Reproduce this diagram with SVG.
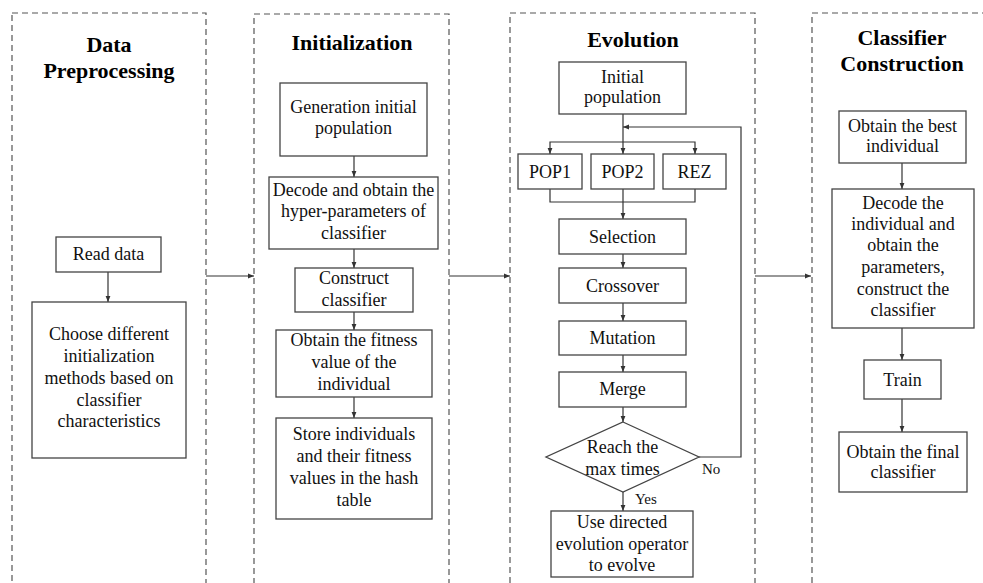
<svg xmlns="http://www.w3.org/2000/svg" width="983" height="583" viewBox="0 0 983 583">
<defs>
<marker id="ah" viewBox="0 0 10 10" refX="10" refY="5" markerWidth="6" markerHeight="6" markerUnits="userSpaceOnUse" orient="auto">
<path d="M0,1 L10,5 L0,9 z" fill="#333"/>
</marker>
<style>
.col{fill:none;stroke:#555;stroke-width:1.2;stroke-dasharray:6,4}
.box{fill:#fff;stroke:#444;stroke-width:1.3}
.t{font-size:18px;fill:#111;text-anchor:middle}
.h{font-size:22px;font-weight:bold;fill:#000;text-anchor:middle}
.s{font-size:15px;fill:#111}
.c{fill:none;stroke:#333;stroke-width:1.2}
.a{marker-end:url(#ah)}
</style>
</defs>
<rect width="983" height="583" fill="#fff"/>
<g font-family="Liberation Serif, Times New Roman, DejaVu Serif, serif">
<g id="col-preprocessing">
<rect class="col" x="12" y="13" width="194" height="600"/>
<text class="h" x="109" y="52">Data</text>
<text class="h" x="109" y="78">Preprocessing</text>
</g>
<g id="col-initialization">
<rect class="col" x="254" y="14" width="195" height="600"/>
<text class="h" x="352" y="50">Initialization</text>
</g>
<g id="col-evolution">
<rect class="col" x="510" y="13" width="245" height="600"/>
<text class="h" x="633" y="47">Evolution</text>
</g>
<g id="col-classifier">
<rect class="col" x="812" y="13" width="190" height="600"/>
<text class="h" x="902" y="45">Classifier</text>
<text class="h" x="902" y="71">Construction</text>
</g>

<g id="connectors">
<path class="c a" d="M206,276 H254"/>
<path class="c a" d="M449,276 H510"/>
<path class="c a" d="M755,276 H811"/>
<path class="c a" d="M108,272 V302"/>
<path class="c a" d="M354,156 V177"/>
<path class="c a" d="M354,249 V268"/>
<path class="c a" d="M354,312 V330"/>
<path class="c a" d="M354,397 V418"/>
<path class="c" d="M623,114 V142"/>
<path class="c a" d="M623,142 H550 V154"/>
<path class="c a" d="M623,142 H695 V154"/>
<path class="c a" d="M623,142 V154"/>
<path class="c" d="M550,189 V202 H695 V189"/>
<path class="c a" d="M623,189 V219"/>
<path class="c a" d="M623,254 V268"/>
<path class="c a" d="M623,303 V321"/>
<path class="c a" d="M623,355 V372"/>
<path class="c a" d="M623,407 V422"/>
<path class="c a" d="M623,492 V511"/>
<path class="c a" d="M699,457 H741 V127 H623"/>
<path class="c a" d="M902,163 V189"/>
<path class="c a" d="M902,328 V360"/>
<path class="c a" d="M902,399 V432"/>
</g>

<g id="read-data">
<rect class="box" x="56" y="237" width="105" height="35"/>
<text class="t" x="108.5" y="260">Read data</text>
</g>
<g id="choose-init">
<rect class="box" x="32" y="302" width="154" height="156"/>
<text class="t" x="109" y="340">Choose different</text>
<text class="t" x="109" y="362">initialization</text>
<text class="t" x="109" y="384">methods based on</text>
<text class="t" x="109" y="406">classifier</text>
<text class="t" x="109" y="427">characteristics</text>
</g>

<g id="gen-init-pop">
<rect class="box" x="280" y="83" width="147" height="73"/>
<text class="t" x="353.5" y="113">Generation initial</text>
<text class="t" x="353.5" y="134">population</text>
</g>
<g id="decode-hyper">
<rect class="box" x="269" y="177" width="169" height="72"/>
<text class="t" x="353.5" y="196">Decode and obtain the</text>
<text class="t" x="353.5" y="217">hyper-parameters of</text>
<text class="t" x="353.5" y="239">classifier</text>
</g>
<g id="construct-classifier">
<rect class="box" x="295" y="268" width="118" height="44"/>
<text class="t" x="354" y="284">Construct</text>
<text class="t" x="354" y="306">classifier</text>
</g>
<g id="obtain-fitness">
<rect class="box" x="276" y="330" width="156" height="67"/>
<text class="t" x="354" y="346">Obtain the fitness</text>
<text class="t" x="354" y="368">value of the</text>
<text class="t" x="354" y="390">individual</text>
</g>
<g id="store-hash">
<rect class="box" x="276" y="418" width="156" height="101"/>
<text class="t" x="354" y="440">Store individuals</text>
<text class="t" x="354" y="462">and their fitness</text>
<text class="t" x="354" y="484">values in the hash</text>
<text class="t" x="354" y="506">table</text>
</g>

<g id="initial-population">
<rect class="box" x="559" y="62" width="127" height="52"/>
<text class="t" x="622.5" y="83">Initial</text>
<text class="t" x="622.5" y="103">population</text>
</g>
<g id="pop1">
<rect class="box" x="518" y="154" width="64" height="35"/>
<text class="t" x="550" y="178">POP1</text>
</g>
<g id="pop2">
<rect class="box" x="591" y="154" width="63" height="35"/>
<text class="t" x="622.5" y="178">POP2</text>
</g>
<g id="rez">
<rect class="box" x="663" y="154" width="63" height="35"/>
<text class="t" x="694.5" y="178">REZ</text>
</g>
<g id="selection">
<rect class="box" x="559" y="219" width="127" height="35"/>
<text class="t" x="622.5" y="243">Selection</text>
</g>
<g id="crossover">
<rect class="box" x="559" y="268" width="127" height="35"/>
<text class="t" x="622.5" y="292">Crossover</text>
</g>
<g id="mutation">
<rect class="box" x="559" y="321" width="127" height="34"/>
<text class="t" x="622.5" y="344">Mutation</text>
</g>
<g id="merge">
<rect class="box" x="559" y="372" width="127" height="35"/>
<text class="t" x="622.5" y="395">Merge</text>
</g>
<g id="reach-max">
<polygon class="box" points="623,422 699,457 623,492 546,457"/>
<text class="t" x="622.5" y="453">Reach the</text>
<text class="t" x="622.5" y="475">max times</text>
<text class="s" x="702" y="474">No</text>
<text class="s" x="635" y="504">Yes</text>
</g>
<g id="directed-evolution">
<rect class="box" x="551" y="511" width="142" height="66"/>
<text class="t" x="622" y="528">Use directed</text>
<text class="t" x="622" y="550">evolution operator</text>
<text class="t" x="622" y="571">to evolve</text>
</g>

<g id="best-individual">
<rect class="box" x="839" y="111" width="127" height="52"/>
<text class="t" x="902.5" y="132">Obtain the best</text>
<text class="t" x="902.5" y="152">individual</text>
</g>
<g id="decode-individual">
<rect class="box" x="832" y="189" width="142" height="139"/>
<text class="t" x="903" y="209">Decode the</text>
<text class="t" x="903" y="230">individual and</text>
<text class="t" x="903" y="251">obtain the</text>
<text class="t" x="903" y="273">parameters,</text>
<text class="t" x="903" y="295">construct the</text>
<text class="t" x="903" y="316">classifier</text>
</g>
<g id="train">
<rect class="box" x="864" y="360" width="77" height="39"/>
<text class="t" x="902.5" y="386">Train</text>
</g>
<g id="final-classifier">
<rect class="box" x="839" y="432" width="128" height="60"/>
<text class="t" x="903" y="458">Obtain the final</text>
<text class="t" x="903" y="478">classifier</text>
</g>
</g>
</svg>
